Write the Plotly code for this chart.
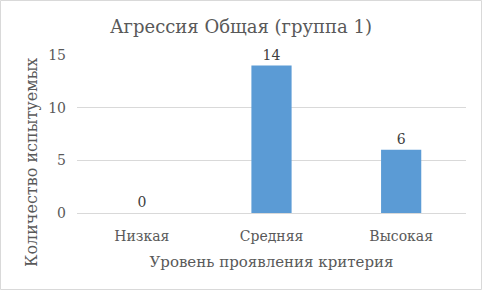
import plotly.graph_objects as go

categories = ["Низкая", "Средняя", "Высокая"]
values = [0, 14, 6]
y_ticks = [0, 5, 10, 15]

W, H = 482, 290
ml, mr, mt, mb = 77, 16, 55, 77
pw, ph = W - ml - mr, H - mt - mb

font_family = "DejaVu Serif"
gray = "#595959"

fig = go.Figure(go.Bar(
    x=categories, y=values,
    marker=dict(color="#5B9BD5", line=dict(width=0)),
    width=0.31,
    text=[str(v) for v in values],
    textposition="outside",
    textfont=dict(family=font_family, size=14, color="#404040"),
    cliponaxis=False,
))

fig.update_layout(
    width=W, height=H,
    margin=dict(l=ml, r=mr, t=mt, b=mb),
    paper_bgcolor="white", plot_bgcolor="white",
    showlegend=False,
    title=dict(text="Агрессия Общая (группа 1)", x=0.5, xanchor="center",
               y=1 - 27 / H, yanchor="middle",
               font=dict(family=font_family, size=18, color=gray)),
    font=dict(family=font_family, color=gray),
    xaxis=dict(
        showgrid=False, showline=True, linecolor="#D9D9D9", linewidth=1,
        ticks="", tickfont=dict(family=font_family, size=14, color=gray),
        ticklabelstandoff=10,
        title=dict(text="Уровень проявления критерия", standoff=13,
                   font=dict(family=font_family, size=15, color=gray)),
    ),
    yaxis=dict(
        range=[0, 15], tickvals=y_ticks, showgrid=True, gridcolor="#D9D9D9",
        gridwidth=1, zeroline=False, showline=False, ticks="",
        tickfont=dict(family=font_family, size=14, color=gray), ticklabelstandoff=10,
    ),
    annotations=[dict(
        text="Количество испытуемых", textangle=-90,
        xref="paper", yref="paper",
        x=(31 - ml) / pw, y=(H - mb - 163) / ph,
        xanchor="center", yanchor="middle", showarrow=False,
        font=dict(family=font_family, size=16, color=gray),
    )],
    shapes=[dict(
        type="rect", xref="paper", yref="paper",
        x0=(-ml + 0.5) / pw, x1=1 + (mr - 0.5) / pw,
        y0=(-mb + 0.5) / ph, y1=1 + (mt - 0.5) / ph,
        line=dict(color="#D9D9D9", width=1), layer="below",
    )],
)

fig.write_html("out.html")
